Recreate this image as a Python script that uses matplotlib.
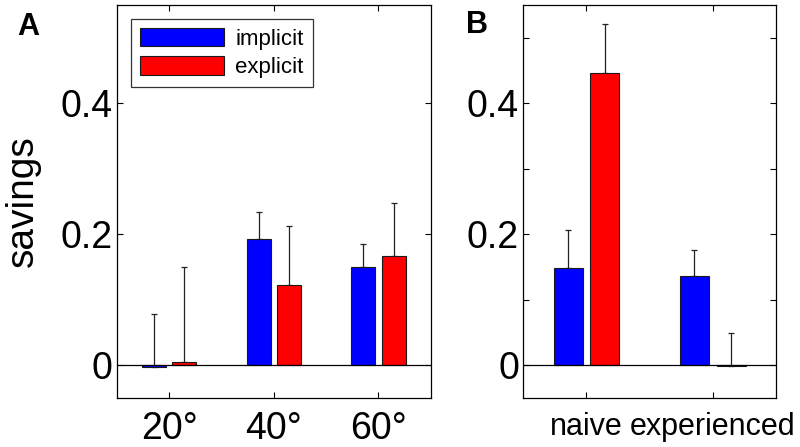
import numpy as np
from matplotlib import pyplot as plt

plt.rcParams['font.family'] = ['Liberation Sans', 'DejaVu Sans']

# panel A: savings by rotation size
angles = ['20°', '40°', '60°']
implicit_a = [-0.002, 0.193, 0.150]
implicit_a_err = [0.080, 0.041, 0.035]
explicit_a = [0.005, 0.123, 0.167]
explicit_a_err = [0.145, 0.090, 0.081]

# panel B: naive vs experienced
groups = ['naive', 'experienced']
implicit_b = [0.148, 0.137]
implicit_b_err = [0.058, 0.039]
explicit_b = [0.446, -0.001]
explicit_b_err = [0.075, 0.050]

blue = '#0000ff'
red = '#ff0000'
w = 0.23
off = 0.145

fig = plt.figure(figsize=(8, 4.47), dpi=100)
axA = fig.add_axes([0.146, 0.1096, 0.3925, 0.8792])
axB = fig.add_axes([0.654, 0.1096, 0.316, 0.8792])


def draw(ax, imp, imp_err, exp, exp_err):
    x = np.arange(1, len(imp) + 1)
    b1 = ax.bar(x - off, imp, w, color=blue, edgecolor='#1a1a1a', linewidth=0.8, label='implicit', zorder=2)
    b2 = ax.bar(x + off, exp, w, color=red, edgecolor='#1a1a1a', linewidth=0.8, label='explicit', zorder=2)
    ax.errorbar(x - off, imp, yerr=[np.zeros(len(imp)), imp_err], fmt='none',
                ecolor='#222222', elinewidth=0.9, capsize=2.5, capthick=0.9, zorder=1)
    ax.errorbar(x + off, exp, yerr=[np.zeros(len(exp)), exp_err], fmt='none',
                ecolor='#222222', elinewidth=0.9, capsize=2.5, capthick=0.9, zorder=1)
    ax.axhline(0, color='black', linewidth=0.9, zorder=3)
    ax.set_ylim(-0.05, 0.55)
    ax.set_xlim(0.5, len(imp) + 0.5)
    ax.set_xticks(x)
    ax.tick_params(direction='in', length=4, width=0.8, top=True, right=True, labelsize=27, colors='black')
    for s in ax.spines.values():
        s.set_linewidth(0.9)
    return b1, b2


b1, b2 = draw(axA, implicit_a, implicit_a_err, explicit_a, explicit_a_err)
axA.set_xticklabels(angles)
axA.set_yticks([0, 0.2, 0.4])
axA.set_yticklabels(['0', '0.2', '0.4'])
axA.tick_params(axis='x', pad=9)
axA.tick_params(axis='y', pad=3)
axA.set_ylabel('savings', fontsize=28, labelpad=14)
leg = axA.legend(loc='upper left', bbox_to_anchor=(0.045, 0.965), fontsize=16, frameon=True, fancybox=False,
                 handlelength=3.8, handleheight=0.9, borderpad=0.4, labelspacing=0.3, handletextpad=0.5,
                 borderaxespad=0)
leg.get_frame().set_edgecolor('black')
leg.get_frame().set_linewidth(0.9)

draw(axB, implicit_b, implicit_b_err, explicit_b, explicit_b_err)
axB.set_xticklabels(groups)
axB.set_yticks([0, 0.1, 0.2, 0.3, 0.4, 0.5])
axB.set_yticklabels(['0', '', '0.2', '', '0.4', ''])
axB.tick_params(axis='x', labelsize=22, pad=10)
axB.tick_params(axis='y', pad=3)

fig.text(0.035, 0.94, 'A', fontsize=22, fontweight='bold', ha='center', va='center')
fig.text(0.596, 0.944, 'B', fontsize=22, fontweight='bold', ha='center', va='center')

plt.savefig('out.png')
